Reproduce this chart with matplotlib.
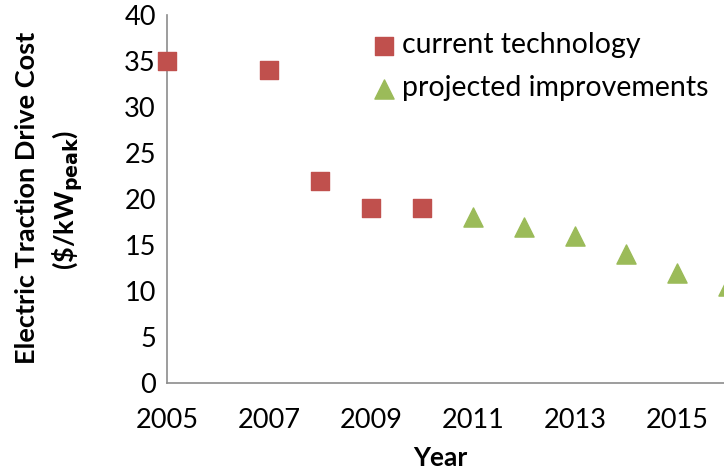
import matplotlib.pyplot as plt

# dados
anos_atual = [2005, 2007, 2008, 2009, 2010]
custo_atual = [35, 34, 22, 19, 19]
anos_proj = [2011, 2012, 2013, 2014, 2015, 2016]
custo_proj = [18, 17, 16, 14, 12, 10.5]
xticks = [2005, 2007, 2009, 2011, 2013, 2015]
yticks = [0, 5, 10, 15, 20, 25, 30, 35, 40]

plt.rcParams['font.family'] = ['Lato', 'DejaVu Sans']

fig = plt.figure(figsize=(7.24, 4.71), dpi=100)
# eixo passa da borda direita, como no original
ax = fig.add_axes([167/724, 88/471, (753.5 - 167)/724, 368/471])

ax.scatter(anos_atual, custo_atual, marker='s', s=150, color='#C0504D',
           label='current technology', clip_on=False, zorder=3)
ax.scatter(anos_proj, custo_proj, marker='^', s=190, color='#9BBB59',
           label='projected improvements', clip_on=False, zorder=3)

ax.set_xlim(2005, 2016.5)
ax.set_ylim(0, 40)
ax.set_xticks(xticks)
ax.set_yticks(yticks)
ax.tick_params(length=0, labelsize=19.5)
ax.tick_params(axis='x', pad=18)
ax.tick_params(axis='y', pad=8)

for s in ['top', 'right']:
    ax.spines[s].set_visible(False)
for s in ['left', 'bottom']:
    ax.spines[s].set_color('#8c8c8c')
    ax.spines[s].set_linewidth(1.2)

fig.text(440/724, 1 - 458/471, 'Year', ha='center', va='center',
         fontsize=19, fontweight='bold')
fig.text(27/724, 1 - 198/471, 'Electric Traction Drive Cost', rotation=90,
         ha='center', va='center', fontsize=19.5, fontweight='bold')
fig.text(68/724, 1 - 200/471, r'(\$/kW$_{\mathbf{peak}}$)', rotation=90,
         ha='center', va='center', fontsize=19.5, fontweight='bold')

ax.legend(loc='upper left', bbox_to_anchor=(356/724, 1 - 21/471),
          bbox_transform=fig.transFigure, frameon=False, fontsize=20.5,
          handletextpad=0.0, labelspacing=0.6, borderaxespad=0,
          handlelength=1.2, scatterpoints=1)

fig.savefig('out.png', dpi=100)
